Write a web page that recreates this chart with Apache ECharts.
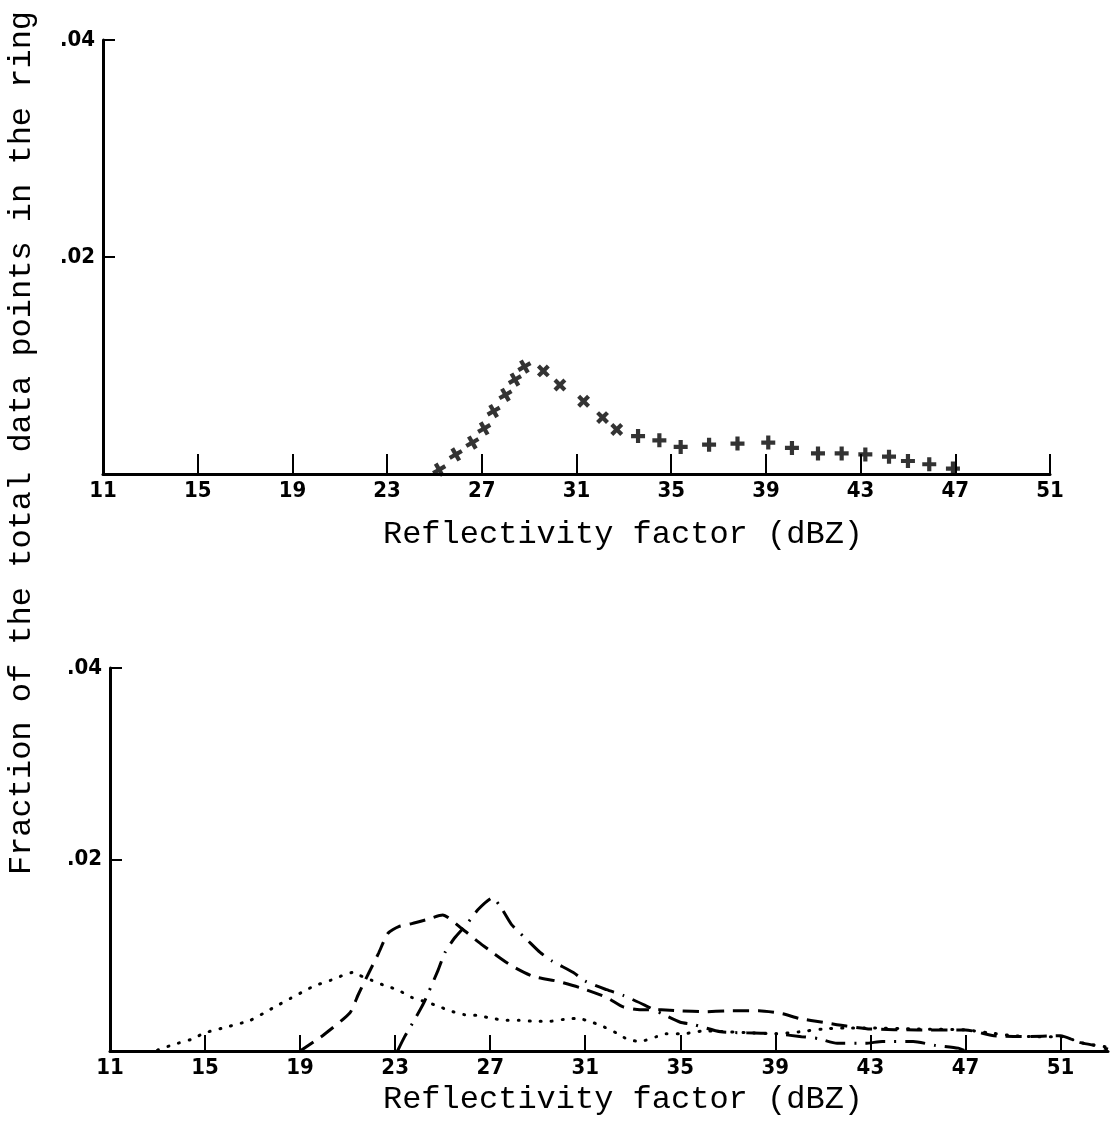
<!DOCTYPE html>
<html>
<head>
<meta charset="utf-8">
<script src="https://cdn.jsdelivr.net/npm/echarts@6/dist/echarts.min.js"></script>
<style>
html,body{margin:0;padding:0;background:#fff;}
#chart{width:1113px;height:1122px;}
</style>
</head>
<body>
<div id="chart"></div>
<script>
// ---- data ----
const xTickValues = [11, 15, 19, 23, 27, 31, 35, 39, 43, 47, 51];
const yTickLabels = {0.02: '.02', 0.04: '.04'};
const yTitle = 'Fraction of the total data points in the ring';
const xTitle = 'Reflectivity factor (dBZ)';

// upper panel: crosses
const topX = [25.2, 25.9, 26.6, 27.1, 27.5, 28.0, 28.4, 28.8, 29.6, 30.3, 31.3, 32.1, 32.7, 33.6, 34.5, 35.4, 36.6, 37.8, 39.1, 40.1, 41.2, 42.2, 43.2, 44.2, 45.0, 45.9, 46.9];
const topY = [0.0004, 0.0018, 0.0029, 0.0042, 0.0058, 0.0073, 0.0087, 0.0099, 0.0095, 0.0082, 0.0067, 0.0052, 0.0041, 0.0035, 0.0031, 0.0025, 0.0027, 0.0028, 0.0029, 0.0024, 0.0019, 0.0019, 0.0018, 0.0016, 0.0012, 0.0009, 0.0005];

// lower panel: dotted curve
const dotX = [13.0, 13.7, 14.4, 15.0, 15.9, 16.9, 17.5, 18.0, 18.6, 19.2, 19.6, 20.3, 20.9, 21.2, 21.5, 22.0, 22.6, 23.1, 23.7, 24.2, 24.8, 25.3, 25.9, 26.5, 27.1, 27.7, 28.2, 28.9, 29.5, 30.1, 30.6, 30.9, 31.3, 31.8, 32.3, 32.8, 33.3, 34.0, 34.4, 35.1, 36.0, 37.0, 38.0, 39.0, 40.0, 41.0, 42.0, 43.0, 45.0, 47.0, 48.0, 49.0, 50.0, 51.0, 52.0, 53.0];
const dotY = [0.0001, 0.0007, 0.0012, 0.0019, 0.0025, 0.0032, 0.0040, 0.0047, 0.0055, 0.0063, 0.0068, 0.0074, 0.0080, 0.0082, 0.0079, 0.0074, 0.0068, 0.0064, 0.0056, 0.0052, 0.0047, 0.0042, 0.0038, 0.0037, 0.0034, 0.0032, 0.0032, 0.0031, 0.0031, 0.0033, 0.0034, 0.0033, 0.0030, 0.0025, 0.0019, 0.0012, 0.0010, 0.0015, 0.0018, 0.0018, 0.0021, 0.0020, 0.0019, 0.0018, 0.0020, 0.0023, 0.0024, 0.0024, 0.0023, 0.0022, 0.0019, 0.0016, 0.0015, 0.0015, 0.0008, 0.0004];

// lower panel: dashed curve
const dashX = [19.0, 20.0, 21.1, 21.45, 21.9, 22.3, 22.7, 23.15, 23.7, 24.3, 25.0, 25.8, 26.5, 27.2, 27.9, 28.8, 29.8, 30.8, 31.9, 32.6, 33.3, 34.2, 35.0, 36.0, 37.0, 38.3, 39.3, 40.0, 41.0, 42.0, 43.0, 45.0, 47.0, 48.2, 49.5, 51.0, 51.8, 52.4, 53.0];
const dashY = [0, 0.0017, 0.0040, 0.0059, 0.0082, 0.0102, 0.0123, 0.0130, 0.0133, 0.0137, 0.0142, 0.0128, 0.0114, 0.0101, 0.0089, 0.0078, 0.0073, 0.0066, 0.0056, 0.0046, 0.0043, 0.0043, 0.0042, 0.0041, 0.0042, 0.0042, 0.0039, 0.0034, 0.0030, 0.0026, 0.0023, 0.0022, 0.0022, 0.0016, 0.0015, 0.0016, 0.0009, 0.0006, 0.0002];

// lower panel: dash-dot curve
const dashDotX = [23.1, 23.4, 23.8, 24.2, 24.8, 25.1, 25.5, 26.0, 26.5, 27.1, 27.5, 27.9, 28.6, 29.1, 29.6, 30.5, 31.0, 31.9, 32.6, 33.5, 34.3, 35.0, 35.5, 36.7, 37.8, 39.0, 40.1, 40.8, 41.6, 42.8, 43.5, 44.8, 45.7, 46.7, 47.0];
const dashDotY = [0, 0.0015, 0.0032, 0.0050, 0.0084, 0.0103, 0.0118, 0.0132, 0.0148, 0.0160, 0.0148, 0.0132, 0.0115, 0.0103, 0.0094, 0.0082, 0.0073, 0.0064, 0.0058, 0.0048, 0.0038, 0.0030, 0.0028, 0.0020, 0.0019, 0.0018, 0.0015, 0.0013, 0.0008, 0.0008, 0.0010, 0.0010, 0.0006, 0.0003, 0];

// ---- chart ----
const zip = (xs, ys) => xs.map((x, i) => [x, ys[i]]);
const INK = '#000';
const mono = '"Liberation Mono", "DejaVu Sans Mono", monospace';
const hand = '"Liberation Sans Narrow", "DejaVu Sans Condensed", "Liberation Sans", sans-serif';

function xAxisCfg(gridIndex, max, tickLen) {
  return {
    type: 'value', gridIndex: gridIndex, min: 11, max: max, interval: 4,
    axisLine: {show: true, lineStyle: {color: INK, width: 3}},
    axisTick: {show: true, inside: true, length: tickLen, lineStyle: {color: INK, width: 2}, customValues: xTickValues},
    axisLabel: {color: INK, fontFamily: hand, fontWeight: 'bold', fontSize: 22, margin: 6, customValues: xTickValues},
    splitLine: {show: false}
  };
}
function yAxisCfg(gridIndex) {
  return {
    type: 'value', gridIndex: gridIndex, min: 0, max: 0.04, interval: 0.02,
    axisLine: {show: true, lineStyle: {color: INK, width: 3}},
    axisTick: {show: true, inside: true, length: 12, lineStyle: {color: INK, width: 2}},
    axisLabel: {color: INK, fontFamily: hand, fontWeight: 'bold', fontSize: 22, margin: 8,
      formatter: v => yTickLabels[v] || ''},
    splitLine: {show: false}
  };
}

const plusPath = 'path://M-1.5,-5 L1.5,-5 L1.5,-1.5 L5,-1.5 L5,1.5 L1.5,1.5 L1.5,5 L-1.5,5 L-1.5,1.5 L-5,1.5 L-5,-1.5 L-1.5,-1.5 Z';

const chart = echarts.init(document.getElementById('chart'), null, {renderer: 'canvas'});
chart.setOption({
  backgroundColor: '#fff',
  animation: false,
  grid: [
    {left: 103, top: 40, width: 947, height: 434},
    {left: 110, top: 668, width: 998, height: 383}
  ],
  xAxis: [xAxisCfg(0, 51, 20), xAxisCfg(1, 53, 16)],
  yAxis: [yAxisCfg(0), yAxisCfg(1)],
  graphic: [
    {type: 'text', x: 22, y: 443, rotation: Math.PI / 2,
      style: {text: yTitle, font: '32px ' + mono, fill: INK, align: 'center', verticalAlign: 'middle'}},
    {type: 'text', x: 623, y: 535,
      style: {text: xTitle, font: '32px ' + mono, fill: INK, align: 'center', verticalAlign: 'middle'}},
    {type: 'text', x: 623, y: 1100,
      style: {text: xTitle, font: '32px ' + mono, fill: INK, align: 'center', verticalAlign: 'middle'}}
  ],
  series: [
    {type: 'scatter', xAxisIndex: 0, yAxisIndex: 0, data: zip(topX, topY),
      symbol: plusPath, symbolSize: 14,
      symbolRotate: (v, p) => p.dataIndex < 8 ? 30 : (p.dataIndex < 13 ? 45 : 0),
      itemStyle: {color: INK}},
    {type: 'line', xAxisIndex: 1, yAxisIndex: 1, data: zip(dotX, dotY), showSymbol: false, smooth: 0.2,
      lineStyle: {color: INK, width: 3, type: [1, 10], cap: 'round'}},
    {type: 'line', xAxisIndex: 1, yAxisIndex: 1, data: zip(dashX, dashY), showSymbol: false, smooth: 0.2,
      lineStyle: {color: INK, width: 3, type: [16, 9]}},
    {type: 'line', xAxisIndex: 1, yAxisIndex: 1, data: zip(dashDotX, dashDotY), showSymbol: false, smooth: 0.2,
      lineStyle: {color: INK, width: 3, type: [20, 9, 2, 9], cap: 'butt'}}
  ]
});
</script>
</body>
</html>
